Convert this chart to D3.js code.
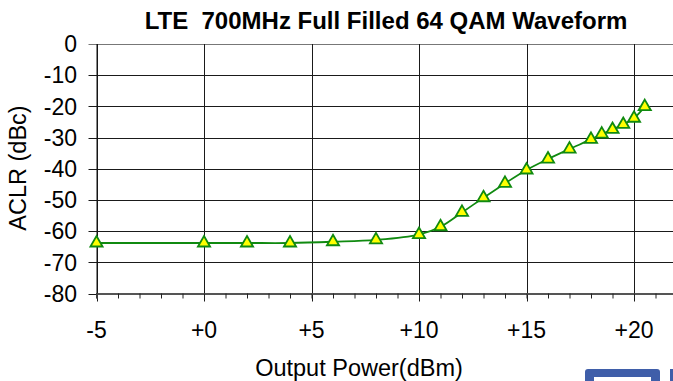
<!DOCTYPE html>
<html>
<head>
<meta charset="utf-8">
<script src="https://cdn.jsdelivr.net/npm/d3@7"></script>
<style>
  body { margin: 0; background: #fff; }
  svg { display: block; font-family: "Liberation Sans", Arial, sans-serif; }
</style>
</head>
<body>
<script>
"use strict";
// chart values
const outputPower = [-5, 0, 2, 4, 6, 8, 10, 11, 12, 13, 14, 15, 16, 17, 18, 18.5, 19, 19.5, 20, 20.5]
const aclr = [-63.8, -63.8, -63.8, -63.8, -63.4, -62.8, -61.1, -58.6, -54.0, -49.3, -44.7, -40.4, -36.9, -33.7, -30.6, -28.9, -27.4, -25.8, -23.8, -20.1]
const xTicks = [-5, 0, 5, 10, 15, 20]
const yTicks = [0, -10, -20, -30, -40, -50, -60, -70, -80]
const titleText = "LTE  700MHz Full Filled 64 QAM Waveform"
const xTitle = "Output Power(dBm)"
const yTitle = "ACLR (dBc)"

;(function(){
    const measurements = {
        width: 673,
        height: 381,
        left: 96.5,
        top: 44,
        bottom: 293.5
    }

    let svg = d3.select("body").append("svg")
        .attr("width", measurements.width)
        .attr("height", measurements.height)

    let scaleX = d3.scaleLinear()
        .domain([-5, 22])
        .range([measurements.left, measurements.left + 27 * 21.5])
    let scaleY = d3.scaleLinear()
        .domain([-80, 0])
        .range([measurements.bottom, measurements.top])

    const right = scaleX(22)

    // horizontal grid + y ticks
    svg.append("g")
        .selectAll("line")
        .data(yTicks)
        .join("line")
        .attr("x1", measurements.left - 8)
        .attr("x2", right)
        .attr("y1", d => Math.round(scaleY(d)) + 0.5)
        .attr("y2", d => Math.round(scaleY(d)) + 0.5)
        .attr("stroke", d => d === 0 ? "#777" : "#1a1a1a")
        .attr("stroke-width", 1)

    // vertical grid
    svg.append("g")
        .selectAll("line")
        .data(xTicks)
        .join("line")
        .attr("x1", d => Math.round(scaleX(d)) + 0.5)
        .attr("x2", d => Math.round(scaleX(d)) + 0.5)
        .attr("y1", measurements.top)
        .attr("y2", measurements.bottom + 8)
        .attr("stroke", "#1a1a1a")
        .attr("stroke-width", 1)

    // x axis with minor ticks
    let xAxis = d3.axisBottom(scaleX)
        .tickValues(d3.range(-5, 23, 1))
        .tickSize(5)
        .tickFormat("")
    let gx = svg.append("g")
        .attr("transform", `translate(0, ${measurements.bottom})`)
        .call(xAxis)
    gx.select(".domain").attr("stroke", "#555").attr("stroke-width", 2)
    gx.selectAll(".tick line").attr("stroke", "#222")

    // y axis line
    svg.append("line")
        .attr("x1", measurements.left + 0.5)
        .attr("x2", measurements.left + 0.5)
        .attr("y1", measurements.top)
        .attr("y2", measurements.bottom)
        .attr("stroke", "#111")

    // tick labels
    svg.append("g")
        .selectAll("text")
        .data(yTicks)
        .join("text")
        .attr("x", 77)
        .attr("y", d => scaleY(d))
        .attr("dy", "0.36em")
        .attr("text-anchor", "end")
        .attr("font-size", 23)
        .text(d => d)

    svg.append("g")
        .selectAll("text")
        .data(xTicks)
        .join("text")
        .attr("x", d => scaleX(d))
        .attr("y", 338)
        .attr("text-anchor", "middle")
        .attr("font-size", 23)
        .text(d => d < 0 ? d : "+" + d)

    // titles
    svg.append("text")
        .attr("x", 386)
        .attr("y", 29)
        .attr("text-anchor", "middle")
        .attr("font-size", 24)
        .attr("font-weight", "bold")
        .style("white-space", "pre")
        .text(titleText)

    svg.append("text")
        .attr("x", 359)
        .attr("y", 376)
        .attr("text-anchor", "middle")
        .attr("font-size", 23.5)
        .text(xTitle)

    svg.append("text")
        .attr("transform", "translate(26, 168) rotate(-90)")
        .attr("text-anchor", "middle")
        .attr("font-size", 23.5)
        .text(yTitle)

    // series
    const points = outputPower.map((x, i) => ({ x: x, y: aclr[i] }))
    let line = d3.line()
        .x(d => scaleX(d.x))
        .y(d => scaleY(d.y))
        .curve(d3.curveCatmullRom.alpha(0.5))

    svg.append("path")
        .datum(points)
        .attr("d", line)
        .attr("fill", "none")
        .attr("stroke", "#108a10")
        .attr("stroke-width", 1.8)

    svg.append("g")
        .selectAll("path")
        .data(points)
        .join("path")
        .attr("transform", d => `translate(${scaleX(d.x)}, ${scaleY(d.y)})`)
        .attr("d", d3.symbol(d3.symbolTriangle, 64))
        .attr("fill", "#ffff00")
        .attr("stroke", "#108a10")
        .attr("stroke-width", 1.8)

    // partial badge in the bottom-right corner
    svg.append("rect")
        .attr("x", 585).attr("y", 369)
        .attr("width", 75).attr("height", 20)
        .attr("rx", 3)
        .attr("fill", "#3f5ea9")
    svg.append("rect")
        .attr("x", 594).attr("y", 377)
        .attr("width", 57).attr("height", 10)
        .attr("fill", "#fff")
    svg.append("rect")
        .attr("x", 670).attr("y", 369)
        .attr("width", 5).attr("height", 20)
        .attr("fill", "#3f5ea9")
})()
</script>
</body>
</html>
